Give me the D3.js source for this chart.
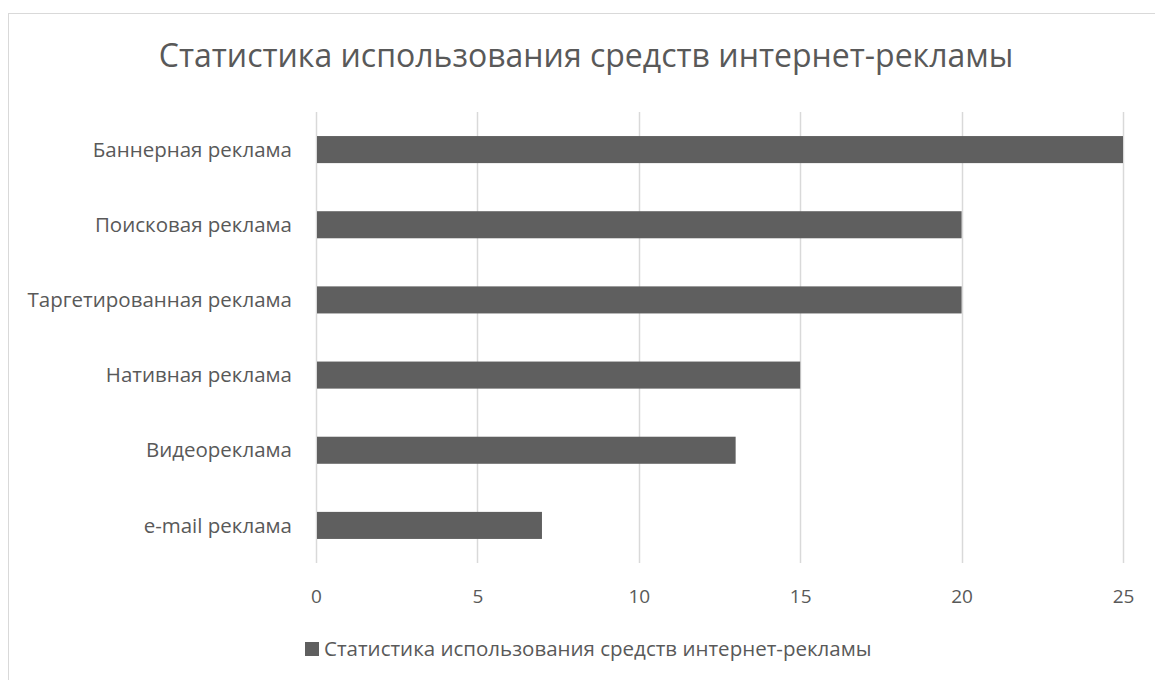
<!DOCTYPE html>
<html>
<head>
<meta charset="utf-8">
<script src="https://cdn.jsdelivr.net/npm/d3@7"></script>
<style>
  html, body { margin: 0; padding: 0; background: #fff; }
  svg { display: block; font-family: "Open Sans", sans-serif; }
</style>
</head>
<body>
<svg id="chart" width="1155" height="680"></svg>
<script>
// Data
const categories = [
  "Баннерная реклама",
  "Поисковая реклама",
  "Таргетированная реклама",
  "Нативная реклама",
  "Видеореклама",
  "e-mail реклама"
];
const values = [25, 20, 20, 15, 13, 7];
const xTicks = [0, 5, 10, 15, 20, 25];
const chartTitle = "Статистика использования средств интернет-рекламы";
const seriesName = "Статистика использования средств интернет-рекламы";

const svg = d3.select("#chart");

// Outer chart frame
svg.append("rect")
  .attr("x", 8.5).attr("y", 13.5)
  .attr("width", 1160).attr("height", 700)
  .attr("fill", "#fff")
  .attr("stroke", "#d9d9d9")
  .attr("stroke-width", 1);

const plot = { left: 316, right: 1123, top: 112, bottom: 563 };

const x = d3.scaleLinear().domain([0, 25]).range([plot.left, plot.right]);
const y = d3.scaleBand().domain(categories).range([plot.top, plot.bottom]).paddingInner(0.64).paddingOuter(0.32);

// Title
svg.append("text")
  .attr("x", 586).attr("y", 67)
  .attr("text-anchor", "middle")
  .attr("fill", "#595959")
  .style("font-size", "32px")
  .text(chartTitle);

// Vertical gridlines
svg.append("g")
  .selectAll("line")
  .data(xTicks)
  .join("line")
  .attr("x1", d => Math.round(x(d)) + 0.5)
  .attr("x2", d => Math.round(x(d)) + 0.5)
  .attr("y1", plot.top)
  .attr("y2", plot.bottom)
  .attr("stroke", "#d9d9d9")
  .attr("stroke-width", 1.5);

// Bars
svg.append("g")
  .selectAll("rect")
  .data(categories.map((c, i) => ({ c, v: values[i] })))
  .join("rect")
  .attr("x", x(0) + 1)
  .attr("y", d => y(d.c))
  .attr("width", d => x(d.v) - x(0) - 1)
  .attr("height", y.bandwidth())
  .attr("fill", "#5f5f5f");

// X axis tick labels
const xAxis = d3.axisBottom(x).tickValues(xTicks).tickSize(0).tickPadding(0);
const gx = svg.append("g")
  .attr("transform", `translate(0, 603)`)
  .call(xAxis);
gx.select(".domain").remove();
gx.selectAll("text")
  .attr("fill", "#595959")
  .attr("dy", "0")
  .style("font-family", "'Open Sans', sans-serif")
  .style("font-size", "19px");

// Y axis category labels
const yAxis = d3.axisLeft(y).tickSize(0).tickPadding(0);
const gy = svg.append("g")
  .attr("transform", `translate(292, 0)`)
  .call(yAxis);
gy.select(".domain").remove();
gy.selectAll("text")
  .attr("fill", "#595959")
  .attr("dy", "0.35em")
  .style("font-family", "'Open Sans', sans-serif")
  .style("font-size", "20.5px");

// Legend
const legend = svg.append("g").attr("transform", "translate(305, 656)");
legend.append("rect")
  .attr("x", 0).attr("y", -14)
  .attr("width", 14).attr("height", 14)
  .attr("fill", "#5f5f5f");
legend.append("text")
  .attr("x", 19).attr("y", 0)
  .attr("fill", "#595959")
  .style("font-size", "20.5px")
  .text(seriesName);
</script>
</body>
</html>
